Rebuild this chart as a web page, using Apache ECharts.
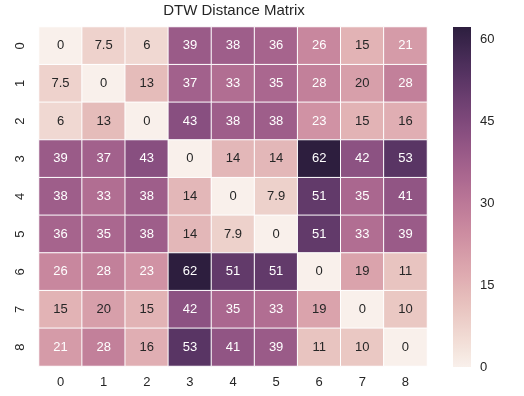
<!DOCTYPE html>
<html>
<head>
<meta charset="utf-8">
<script src="https://cdn.jsdelivr.net/npm/echarts@6/dist/echarts.min.js"></script>
<style>html,body{margin:0;padding:0;background:#fff;}#c{width:524px;height:396px;}</style>
</head>
<body>
<div id="c"></div>
<script>
var labels = ['0','1','2','3','4','5','6','7','8'];
var row0 = [0, 7.5, 6, 39, 38, 36, 26, 15, 21];
var row1 = [7.5, 0, 13, 37, 33, 35, 28, 20, 28];
var row2 = [6, 13, 0, 43, 38, 38, 23, 15, 16];
var row3 = [39, 37, 43, 0, 14, 14, 62.3, 42, 53];
var row4 = [38, 33, 38, 14, 0, 7.9, 51, 35, 41];
var row5 = [36, 35, 38, 14, 7.9, 0, 51, 33, 39];
var row6 = [26, 28, 23, 62.3, 51, 51, 0, 19, 11];
var row7 = [15, 20, 15, 42, 35, 33, 19, 0, 10];
var row8 = [21, 28, 16, 53, 41, 39, 11, 10, 0];
var colorbarTicks = [0, 15, 30, 45, 60];

var rows = [row0,row1,row2,row3,row4,row5,row6,row7,row8];
var vmin = 0, vmax = 0;
rows.forEach(function(r){ r.forEach(function(v){ if (v > vmax) vmax = v; }); });

// seaborn cubehelix_palette(light=.95, as_cmap=True)
function chan(p0, p1, x){
  var xg = x, a = 0.8 * xg * (1 - xg) / 2, phi = 2 * Math.PI * (0.4 * x);
  return Math.min(1, Math.max(0, xg + a * (p0 * Math.cos(phi) + p1 * Math.sin(phi))));
}
function cmapRGB(t){
  var x = 0.95 + (0.15 - 0.95) * t;
  return [chan(-0.14861, 1.78277, x), chan(-0.29227, -0.90649, x), chan(1.97294, 0, x)];
}
function toHex(rgb){
  return '#' + rgb.map(function(c){ var h = Math.round(c*255).toString(16); return h.length<2?'0'+h:h; }).join('');
}
var stops = [];
for (var i = 0; i <= 64; i++) stops.push(toHex(cmapRGB(i/64)));
function lum(rgb){
  var l = rgb.map(function(c){ return c <= 0.03928 ? c/12.92 : Math.pow((c+0.055)/1.055, 2.4); });
  return 0.2126*l[0] + 0.7152*l[1] + 0.0722*l[2];
}
function fmt(v){
  if (v >= 10) return String(Math.round(v));
  return String(Math.round(v*10)/10);
}
var data = [];
rows.forEach(function(r, yi){
  r.forEach(function(v, xi){
    var rgb = cmapRGB((v - vmin)/(vmax - vmin));
    data.push({value:[xi, yi, v], label:{color: lum(rgb) > 0.408 ? '#262626' : '#ffffff', formatter: fmt(v)}});
  });
});
// colorbar gradient (bottom = vmin, top = vmax)
var gradStops = stops.map(function(c, k){ return {offset: 1 - k/(stops.length-1), color: c}; }).reverse();

var chart = echarts.init(document.getElementById('c'));
var FONT = 'Liberation Sans, Arial, sans-serif';
var NARROW = 'Liberation Sans Narrow, Liberation Sans, Arial, sans-serif';
chart.setOption({
  backgroundColor: '#ffffff',
  animation: false,
  title: {text: 'DTW Distance Matrix', left: 234, textAlign: 'center', top: 3, padding: 0,
    textStyle: {fontFamily: FONT, fontSize: 15, fontWeight: 'normal', color: '#262626'}},
  grid: [
    {left: 39, top: 27, width: 388, height: 339},
    {left: 453, top: 27, width: 18, height: 340}
  ],
  xAxis: [
    {type: 'category', data: labels, gridIndex: 0, axisLine: {show: false}, axisTick: {show: false},
      splitLine: {show: false}, axisLabel: {margin: 10, fontFamily: FONT, fontSize: 13, color: '#262626'}},
    {type: 'value', gridIndex: 1, show: false, min: 0, max: 1}
  ],
  yAxis: [
    {type: 'category', data: labels, inverse: true, gridIndex: 0, axisLine: {show: false}, axisTick: {show: false},
      splitLine: {show: false}, axisLabel: {rotate: 90, margin: 12, fontFamily: FONT, fontSize: 13, color: '#262626'}},
    {type: 'value', gridIndex: 1, position: 'right', min: vmin, max: vmax, interval: 15,
      axisLine: {show: false}, axisTick: {show: false}, splitLine: {show: false},
      axisLabel: {margin: 9, fontFamily: NARROW, fontSize: 13, color: '#262626',
        formatter: function(v){ return colorbarTicks.indexOf(v) >= 0 ? String(v) : ''; }}}
  ],
  visualMap: {
    type: 'continuous', min: vmin, max: vmax, show: false, seriesIndex: 0,
    inRange: {color: stops}
  },
  graphic: [{
    type: 'rect', shape: {x: 453, y: 27, width: 18, height: 340}, silent: true,
    style: {fill: new echarts.graphic.LinearGradient(0, 1, 0, 0, stops.map(function(c, k){ return {offset: k/(stops.length-1), color: c}; }))}
  }],
  series: [{
    type: 'heatmap', xAxisIndex: 0, yAxisIndex: 0, data: data,
    itemStyle: {borderColor: '#ffffff', borderWidth: 1},
    label: {show: true, fontFamily: NARROW, fontSize: 13},
    emphasis: {disabled: true}
  }]
});
</script>
</body>
</html>
